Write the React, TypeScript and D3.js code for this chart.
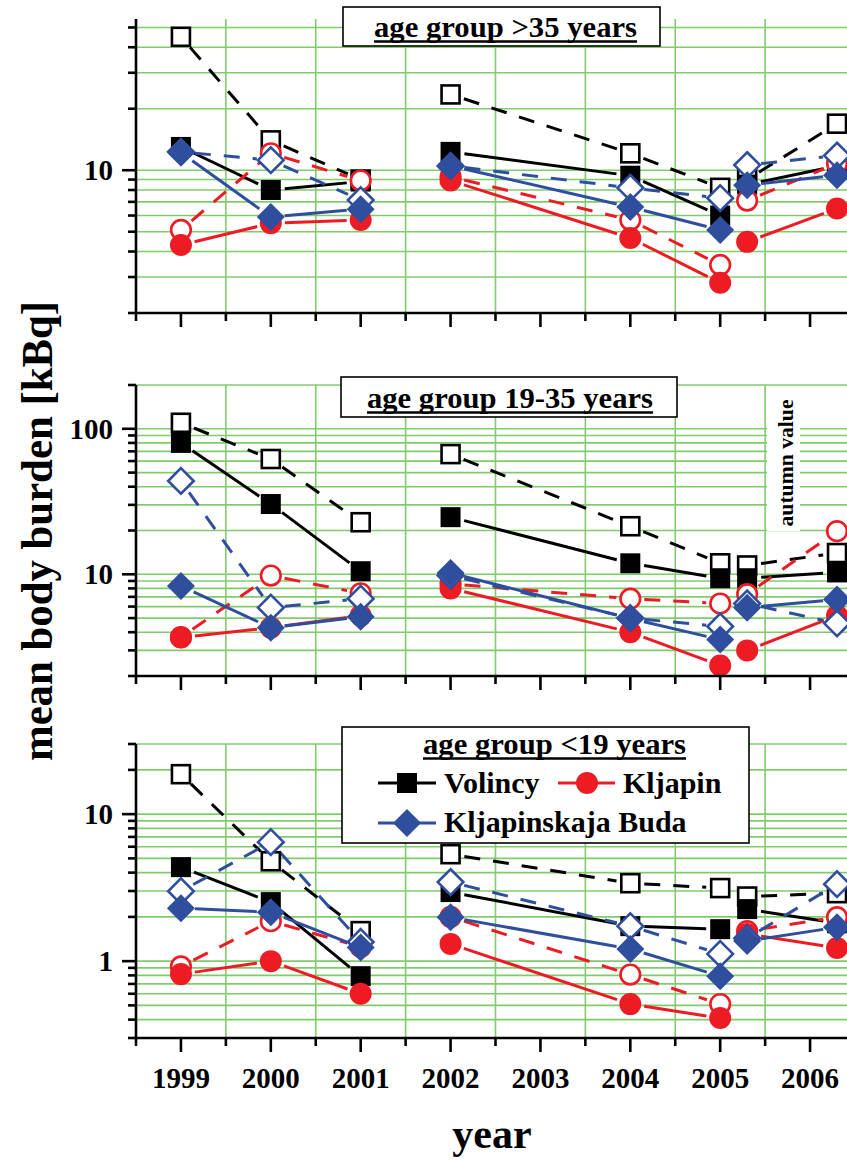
import React from 'react';
import * as d3 from 'd3';

// ---------- DATA ----------
const years = [1999, 2000, 2001, 2002, 2004, 2005, 2005.3, 2006.3];
const segmentGroups = [[0, 1, 2], [3, 4, 5], [6, 7]];
const xTickYears = [1999, 2000, 2001, 2002, 2003, 2004, 2005, 2006];
const xMinorYears = [1998.5, 1999.5, 2000.5, 2001.5, 2002.5, 2003.5, 2004.5, 2005.5, 2006.5];
const siteNames = ['Volincy', 'Kljapin', 'Kljapinskaja Buda'];

// age group >35 years
const volincyOver35 = [13, 8.0, 8.8, 12.3, 9.4, 6.0, 8.5, 10.5];
const volincyOver35Open = [45, 14.0, 9.0, 23.5, 12.1, 8.2, 9.0, 16.9];
const kljapinOver35 = [4.3, 5.5, 5.7, 8.9, 4.66, 2.81, 4.46, 6.5];
const kljapinOver35Open = [5.1, 12.1, 8.9, 9.3, 5.7, 3.44, 7.1, 10.8];
const budaOver35 = [12.2, 5.9, 6.45, 10.5, 6.6, 5.1, 8.45, 9.45];
const budaOver35Open = [12.3, 11.2, 7.14, 10.5, 8.2, 7.3, 10.6, 11.8];

// age group 19-35 years
const volincy19to35 = [80, 30.4, 10.5, 24.7, 11.9, 9.4, 9.4, 10.3];
const volincy19to35Open = [110, 62, 22.8, 67, 21.4, 11.9, 11.5, 14.0];
const kljapin19to35 = [3.68, 4.3, 5.2, 8.0, 4.0, 2.36, 3.0, 5.2];
const kljapin19to35Open = [3.7, 9.8, 7.4, 8.6, 6.8, 6.3, 7.3, 19.8];
const buda19to35 = [8.3, 4.3, 5.1, 10.2, 4.97, 3.56, 5.9, 6.7];
const buda19to35Open = [43.8, 5.9, 6.8, 9.8, 5.0, 4.38, 6.3, 4.6];

// age group <19 years
const volincyUnder19 = [4.36, 2.52, 0.79, 2.95, 1.73, 1.65, 2.26, 1.81];
const volincyUnder19Open = [18.7, 4.78, 1.6, 5.34, 3.39, 3.14, 2.75, 2.9];
const kljapinUnder19 = [0.816, 1.0, 0.6, 1.31, 0.51, 0.41, 1.53, 1.23];
const kljapinUnder19Open = [0.92, 1.87, 1.25, 2.0, 0.81, 0.51, 1.6, 1.99];
const budaUnder19 = [2.29, 2.15, 1.24, 1.99, 1.21, 0.79, 1.37, 1.7];
const budaUnder19Open = [2.99, 6.45, 1.35, 3.45, 1.73, 1.12, 1.43, 3.34];

const over35Ticks = [2, 3, 4, 5, 6, 7, 8, 9, 10, 20, 30, 40, 50];
const mid35Ticks = [2, 3, 4, 5, 6, 7, 8, 9, 10, 20, 30, 40, 50, 60, 70, 80, 90, 100, 200];
const under19Ticks = [0.3, 0.4, 0.5, 0.6, 0.7, 0.8, 0.9, 1, 2, 3, 4, 5, 6, 7, 8, 9, 10, 20, 30];

// ---------- STYLE / LAYOUT ----------
const W = 847;
const H = 1160;
const FONT = '"Liberation Serif", "Times New Roman", serif';
const GRID = '#80cc6c';
const COLORS = ['#000000', '#ED1C24', '#2F4E9E'];
const SHAPES = ['square', 'circle', 'diamond'];
const LEFT = 136;

const x = d3.scaleLinear().domain([1998.5, 2006.5]).range([LEFT, 855]);

const panels = [
  {
    key: 'over35',
    title: 'age group >35 years',
    domain: [2, 55], range: [313, 19],
    ticks: over35Ticks, labels: [10],
    series: [[volincyOver35, volincyOver35Open], [kljapinOver35, kljapinOver35Open], [budaOver35, budaOver35Open]],
  },
  {
    key: 'mid',
    title: 'age group 19-35 years',
    domain: [2, 200], range: [676, 385],
    ticks: mid35Ticks, labels: [10, 100],
    series: [[volincy19to35, volincy19to35Open], [kljapin19to35, kljapin19to35Open], [buda19to35, buda19to35Open]],
  },
  {
    key: 'under19',
    title: 'age group <19 years',
    domain: [0.3, 30], range: [1038, 744],
    ticks: under19Ticks, labels: [1, 10],
    series: [[volincyUnder19, volincyUnder19Open], [kljapinUnder19, kljapinUnder19Open], [budaUnder19, budaUnder19Open]],
  },
];

function Marker({ shape, cx, cy, color, open }: any) {
  if (shape === 'square') {
    return open ? (
      <rect x={cx - 9} y={cy - 9} width={18} height={18} fill="#fff" stroke={color} strokeWidth={2.6} />
    ) : (
      <rect x={cx - 10} y={cy - 10} width={20} height={20} fill={color} />
    );
  }
  if (shape === 'circle') {
    return open ? (
      <circle cx={cx} cy={cy} r={9.8} fill="#fff" stroke={color} strokeWidth={2.6} />
    ) : (
      <circle cx={cx} cy={cy} r={11} fill={color} />
    );
  }
  const h = open ? 12.8 : 14;
  const d = `M${cx},${cy - h}L${cx + h},${cy}L${cx},${cy + h}L${cx - h},${cy}Z`;
  return open ? (
    <path d={d} fill="#fff" stroke={color} strokeWidth={2.6} strokeLinejoin="miter" />
  ) : (
    <path d={d} fill={color} />
  );
}

function gappedSegments(pts: [number, number][], gap: number) {
  const segs: [number, number, number, number][] = [];
  for (let i = 0; i < pts.length - 1; i++) {
    const [x1, y1] = pts[i];
    const [x2, y2] = pts[i + 1];
    const dx = x2 - x1, dy = y2 - y1;
    const d = Math.hypot(dx, dy);
    if (d <= 2 * gap) continue;
    const ux = dx / d, uy = dy / d;
    segs.push([x1 + ux * gap, y1 + uy * gap, x2 - ux * gap, y2 - uy * gap]);
  }
  return segs;
}

function Panel({ p, showXLabels }: any) {
  const y = d3.scaleLog().domain(p.domain).range(p.range);
  const [yBottom, yTop] = p.range;
  const lines: any[] = [];
  const markers: any[] = [];
  p.series.forEach((pair: number[][], si: number) => {
    // open first, then filled
    [1, 0].forEach((variant) => {
      const vals = pair[variant];
      const open = variant === 1;
      segmentGroups.forEach((g, gi) => {
        const pts = g.map((i) => [x(years[i]), y(vals[i])] as [number, number]);
        gappedSegments(pts, 14).forEach((s, k) => {
          lines.push(
            <line key={`l-${si}-${variant}-${gi}-${k}`} x1={s[0]} y1={s[1]} x2={s[2]} y2={s[3]}
              stroke={COLORS[si]} strokeWidth={3} strokeDasharray={open ? '16,13' : undefined} />
          );
        });
      });
      vals.forEach((v, i) => {
        markers.push(
          <Marker key={`m-${si}-${variant}-${i}`} shape={SHAPES[si]} cx={x(years[i])} cy={y(v)} color={COLORS[si]} open={open} />
        );
      });
    });
  });

  return (
    <g>
      {/* grid */}
      {p.ticks.filter((t: number) => t !== p.domain[0]).map((t: number) => (
        <line key={`hg-${t}`} x1={LEFT} x2={W} y1={y(t)} y2={y(t)} stroke={GRID} strokeWidth={1.6} />
      ))}
      {xMinorYears.filter((yr) => yr > 1998.5).map((yr) => (
        <line key={`vg-${yr}`} x1={x(yr)} x2={x(yr)} y1={yTop} y2={yBottom} stroke={GRID} strokeWidth={1.6} />
      ))}
      {p.key === 'mid' && (
        <g>
          <rect x={767} y={yTop + 1} width={33} height={145} fill="#fff" />
          <text transform={`translate(793,${463}) rotate(-90)`} textAnchor="middle" fontFamily={FONT}
            fontWeight="bold" fontSize={21} textLength={127} lengthAdjust="spacingAndGlyphs">autumn value</text>
        </g>
      )}
      {lines}
      {markers}
      {/* axes */}
      <line x1={LEFT} x2={LEFT} y1={yTop} y2={yBottom + 1} stroke="#000" strokeWidth={2.6} />
      <line x1={LEFT - 1} x2={W} y1={yBottom} y2={yBottom} stroke="#000" strokeWidth={2.6} />
      {p.ticks.map((t: number) => {
        const major = p.labels.includes(t);
        return (
          <line key={`yt-${t}`} x1={LEFT - (major ? 14 : 8)} x2={LEFT} y1={y(t)} y2={y(t)} stroke="#000" strokeWidth={2.6} />
        );
      })}
      {p.labels.map((t: number) => (
        <text key={`yl-${t}`} x={113} y={y(t)} dy="0.34em" textAnchor="end" fontFamily={FONT}
          fontWeight="bold" fontSize={29}>{t}</text>
      ))}
      {xTickYears.map((yr) => (
        <line key={`xt-${yr}`} x1={x(yr)} x2={x(yr)} y1={yBottom} y2={yBottom + 14} stroke="#000" strokeWidth={2.6} />
      ))}
      {xMinorYears.map((yr) => (
        <line key={`xm-${yr}`} x1={x(yr)} x2={x(yr)} y1={yBottom} y2={yBottom + 8} stroke="#000" strokeWidth={2.6} />
      ))}
      {showXLabels && xTickYears.map((yr) => (
        <text key={`xl-${yr}`} x={x(yr)} y={1088} textAnchor="middle" fontFamily={FONT}
          fontWeight="bold" fontSize={30} textLength={58} lengthAdjust="spacingAndGlyphs">{yr}</text>
      ))}
    </g>
  );
}

function TitleBox({ bx, by, bw, bh, text, tx, tw, base }: any) {
  return (
    <g>
      <rect x={bx} y={by} width={bw} height={bh} fill="#fff" stroke="#000" strokeWidth={1.6} />
      <text x={tx} y={base} fontFamily={FONT} fontWeight="bold" fontSize={30} textLength={tw}
        lengthAdjust="spacingAndGlyphs">{text}</text>
      <line x1={tx} x2={tx + tw} y1={base + 4.5} y2={base + 4.5} stroke="#000" strokeWidth={2.4} />
    </g>
  );
}

export default function App() {
  return (
    <div style={{ position: 'absolute', left: 0, top: 0 }}>
      <svg width={W} height={H} viewBox={`0 0 ${W} ${H}`} style={{ display: 'block', background: '#fff' }}>
        <rect x={0} y={0} width={W} height={H} fill="#fff" />
        {panels.map((p, i) => (
          <Panel key={p.key} p={p} showXLabels={i === 2} />
        ))}
        <TitleBox bx={343} by={7} bw={317} bh={39} text={panels[0].title} tx={374} tw={263} base={37} />
        <TitleBox bx={341} by={377} bw={336} bh={40} text={panels[1].title} tx={367} tw={286} base={408} />
        {/* legend for bottom panel */}
        <g>
          <TitleBox bx={342} by={727} bw={407} bh={116} text={panels[2].title} tx={423} tw={263} base={754} />
          <line x1={378} x2={436} y1={783} y2={783} stroke={COLORS[0]} strokeWidth={3} />
          <Marker shape="square" cx={407} cy={783} color={COLORS[0]} open={false} />
          <text x={444} y={793} fontFamily={FONT} fontWeight="bold" fontSize={30}>{siteNames[0]}</text>
          <line x1={558} x2={615} y1={783} y2={783} stroke={COLORS[1]} strokeWidth={3} />
          <Marker shape="circle" cx={587} cy={783} color={COLORS[1]} open={false} />
          <text x={623} y={793} fontFamily={FONT} fontWeight="bold" fontSize={30}>{siteNames[1]}</text>
          <line x1={378} x2={436} y1={823} y2={823} stroke={COLORS[2]} strokeWidth={3} />
          <Marker shape="diamond" cx={407} cy={823} color={COLORS[2]} open={false} />
          <text x={444} y={832} fontFamily={FONT} fontWeight="bold" fontSize={30}>{siteNames[2]}</text>
        </g>
        <text transform="translate(52,531) rotate(-90)" textAnchor="middle" fontFamily={FONT} fontWeight="bold"
          fontSize={44} textLength={460} lengthAdjust="spacingAndGlyphs">mean body burden [kBq]</text>
        <text x={492} y={1148} textAnchor="middle" fontFamily={FONT} fontWeight="bold" fontSize={42}>year</text>
      </svg>
    </div>
  );
}
